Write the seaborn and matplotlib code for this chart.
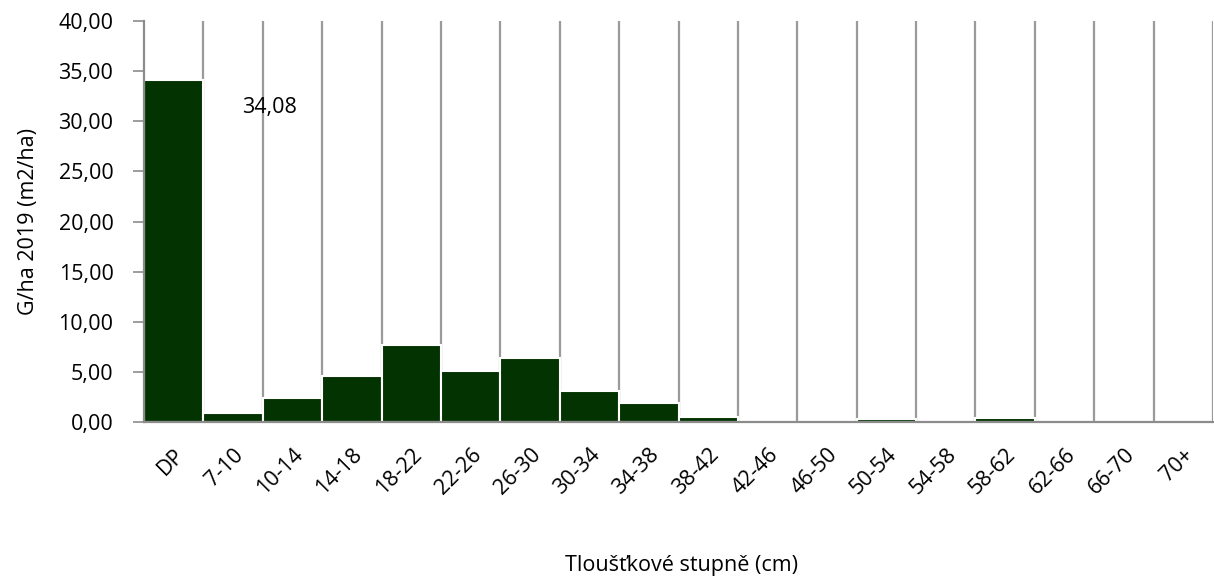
import matplotlib
matplotlib.use("Agg")
import matplotlib.pyplot as plt
import seaborn as sns
import pandas as pd
from matplotlib.ticker import FuncFormatter, MultipleLocator

categories = ["DP", "7-10", "10-14", "14-18", "18-22", "22-26", "26-30", "30-34",
              "34-38", "38-42", "42-46", "46-50", "50-54", "54-58", "58-62",
              "62-66", "66-70", "70+"]
values = [34.08, 0.85, 2.4, 4.6, 7.7, 5.1, 6.35, 3.05, 1.85, 0.5, 0.0, 0.0,
          0.35, 0.0, 0.45, 0.0, 0.0, 0.0]
label_text = "34,08"
ylabel = "G/ha 2019 (m2/ha)"
xlabel = "Tloušťkové stupně (cm)"

sns.set_theme(style="white")
plt.rcParams['font.family'] = ['Open Sans', 'DejaVu Sans']
FS = 15.5

df = pd.DataFrame({"cat": categories, "val": values})

fig = plt.figure(figsize=(12.14, 5.85), dpi=100)
ax = fig.add_axes([0.1186, 0.2786, 0.8806, 0.6855])

# category boundary lines
for i in range(len(categories)):
    ax.axvline(i + 0.5, color="#9a9a9a", lw=1.6, zorder=0)

sns.barplot(data=df, x="cat", y="val", color="#033300", saturation=1, width=1.0,
            edgecolor="white", linewidth=1.5, ax=ax, zorder=2)

ax.set_xlim(-0.5, len(categories) - 0.5)
ax.set_ylim(0, 40)
ax.yaxis.set_major_locator(MultipleLocator(5))
ax.yaxis.set_major_formatter(FuncFormatter(lambda v, p: f"{v:.2f}".replace(".", ",")))

ax.text(1.62, 31.4, label_text, ha="center", va="center", fontsize=FS, color="black")

for s in ["top", "right"]:
    ax.spines[s].set_visible(False)
for s in ["left", "bottom"]:
    ax.spines[s].set_color("#8c8c8c")
    ax.spines[s].set_linewidth(1.6)
    ax.spines[s].set_zorder(3)

ax.tick_params(axis="y", which="major", left=True, length=8, width=1.2, color="#8c8c8c",
               labelsize=FS, labelcolor="black", pad=14)
ax.tick_params(axis="x", bottom=False, labelsize=FS, labelcolor="black", pad=10)
plt.setp(ax.get_xticklabels(), rotation=45, ha="right", rotation_mode="anchor")

ax.set_ylabel(ylabel, fontsize=FS, color="black", labelpad=14)
ax.set_xlabel("")
fig.text(0.5615, 1 - 565 / 585, xlabel, ha="center", va="center", fontsize=FS, color="black")

fig.savefig("out.png", dpi=100)
